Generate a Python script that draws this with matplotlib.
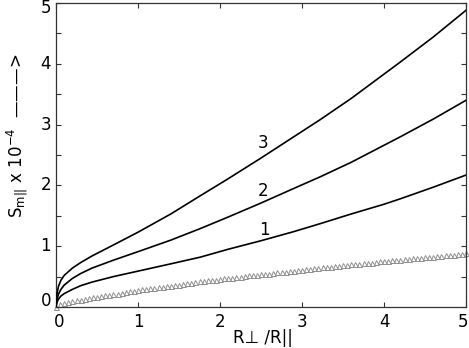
import numpy as np
import matplotlib
matplotlib.use("Agg")
import matplotlib.pyplot as plt
from matplotlib.ticker import MultipleLocator
from matplotlib.transforms import offset_copy

# curva 1, 2, 3
c1_x = [0, 0.01, 0.03, 0.06, 0.1, 0.2, 0.3, 0.44, 0.7, 1.0, 1.4, 1.76, 2.1, 2.5, 2.9, 3.22, 3.6, 4.0, 4.2, 4.6, 5.0]
c1_y = [0, 0.07, 0.13, 0.18, 0.22, 0.29, 0.35, 0.41, 0.50, 0.59, 0.71, 0.82, 0.95, 1.09, 1.24, 1.37, 1.53, 1.69, 1.78, 1.97, 2.17]

c2_x = [0, 0.01, 0.03, 0.06, 0.1, 0.2, 0.3, 0.44, 0.7, 1.0, 1.4, 1.76, 2.1, 2.5, 2.9, 3.22, 3.6, 4.0, 4.2, 4.6, 5.0]
c2_y = [0, 0.11, 0.21, 0.29, 0.36, 0.47, 0.55, 0.64, 0.77, 0.91, 1.10, 1.29, 1.48, 1.71, 1.95, 2.14, 2.38, 2.66, 2.80, 3.09, 3.40]

c3_x = [0, 0.01, 0.03, 0.06, 0.1, 0.2, 0.3, 0.44, 0.7, 1.0, 1.4, 1.76, 2.1, 2.5, 2.9, 3.22, 3.6, 4.0, 4.2, 4.6, 5.0]
c3_y = [0, 0.20, 0.34, 0.44, 0.52, 0.64, 0.73, 0.84, 1.02, 1.23, 1.53, 1.83, 2.11, 2.45, 2.80, 3.08, 3.43, 3.83, 4.03, 4.44, 4.88]

# triangulos
tri_x = np.round(np.arange(0, 5.001, 0.05), 2)
tri_y = [0.00, 0.05, 0.07, 0.08, 0.10, 0.11, 0.12, 0.13, 0.15, 0.16,
         0.17, 0.18, 0.19, 0.20, 0.21, 0.22, 0.23, 0.24, 0.26, 0.27,
         0.28, 0.29, 0.30, 0.31, 0.32, 0.33, 0.33, 0.34, 0.35, 0.36,
         0.37, 0.38, 0.39, 0.40, 0.41, 0.42, 0.43, 0.44, 0.44, 0.45,
         0.46, 0.47, 0.48, 0.48, 0.49, 0.50, 0.51, 0.52, 0.52, 0.53,
         0.54, 0.55, 0.55, 0.56, 0.57, 0.58, 0.58, 0.59, 0.60, 0.61,
         0.61, 0.62, 0.63, 0.64, 0.64, 0.65, 0.66, 0.66, 0.67, 0.68,
         0.69, 0.69, 0.70, 0.71, 0.71, 0.72, 0.73, 0.73, 0.74, 0.75,
         0.75, 0.76, 0.77, 0.77, 0.78, 0.79, 0.79, 0.80, 0.81, 0.81,
         0.82, 0.82, 0.83, 0.84, 0.84, 0.85, 0.86, 0.86, 0.87, 0.87,
         0.88]

curve_labels = ["3", "2", "1"]
label_pos = [(2.53, 2.70), (2.53, 1.91), (2.54, 1.27)]

x_ticks = [0, 1, 2, 3, 4, 5]
y_ticks = [0, 1, 2, 3, 4, 5]

plt.rcParams['font.family'] = ['DejaVu Sans']

fig = plt.figure(figsize=(4.69, 3.48), dpi=100)
ax = fig.add_axes([56 / 469, 41 / 348, 410 / 469, 304 / 348])

ax.plot(tri_x, tri_y, linestyle='none', marker='^', markersize=3.6,
        markerfacecolor='none', markeredgecolor='#8f8f8f', markeredgewidth=0.7,
        clip_on=False, zorder=2)
for xs, ys in [(c1_x, c1_y), (c2_x, c2_y), (c3_x, c3_y)]:
    ax.plot(xs, ys, color='black', linewidth=1.2, zorder=3)

for txt, (px, py) in zip(curve_labels, label_pos):
    ax.text(px, py, txt, fontsize=12, ha='center', va='center')

ax.set_xlim(0, 5)
ax.set_ylim(0, 5)
ax.set_xticks(x_ticks)
ax.set_yticks(y_ticks)
ax.yaxis.set_minor_locator(MultipleLocator(0.5))
ax.set_xticklabels([])
ax.set_yticklabels([])
ax.tick_params(which='both', direction='in', top=True, right=True,
               length=3.5, width=0.8, color='#333333')
for sp in ax.spines.values():
    sp.set_linewidth(0.9)
    sp.set_color('#333333')

# etiquetas de los ejes, a mano para que no se corten en los bordes
for i, v in enumerate(x_ticks):
    dx = 3 if i == 0 else (-3 if i == len(x_ticks) - 1 else 0)
    tr = offset_copy(ax.get_xaxis_transform(), fig=fig, x=dx, y=-15, units='dots')
    ax.text(v, 0, str(v), transform=tr, fontsize=12, ha='center', va='center')
for i, v in enumerate(y_ticks):
    dy = 6 if i == 0 else (-5 if i == len(y_ticks) - 1 else 0)
    tr = offset_copy(ax.get_yaxis_transform(), fig=fig, x=-5, y=dy, units='dots')
    ax.text(0, v, str(v), transform=tr, fontsize=12, ha='right', va='center')

fig.text(263 / 469, 10 / 348, 'R\u22a5 /R||', fontsize=12, ha='center', va='center')
fig.text(0.038, 0.61,
         r'S$_{\mathregular{m||}}$ x 10$^{\mathregular{-4}}$  ' + '\u2014\u2014\u2014>',
         rotation=90, fontsize=12, ha='center', va='center')

fig.savefig('out.png', dpi=100)
